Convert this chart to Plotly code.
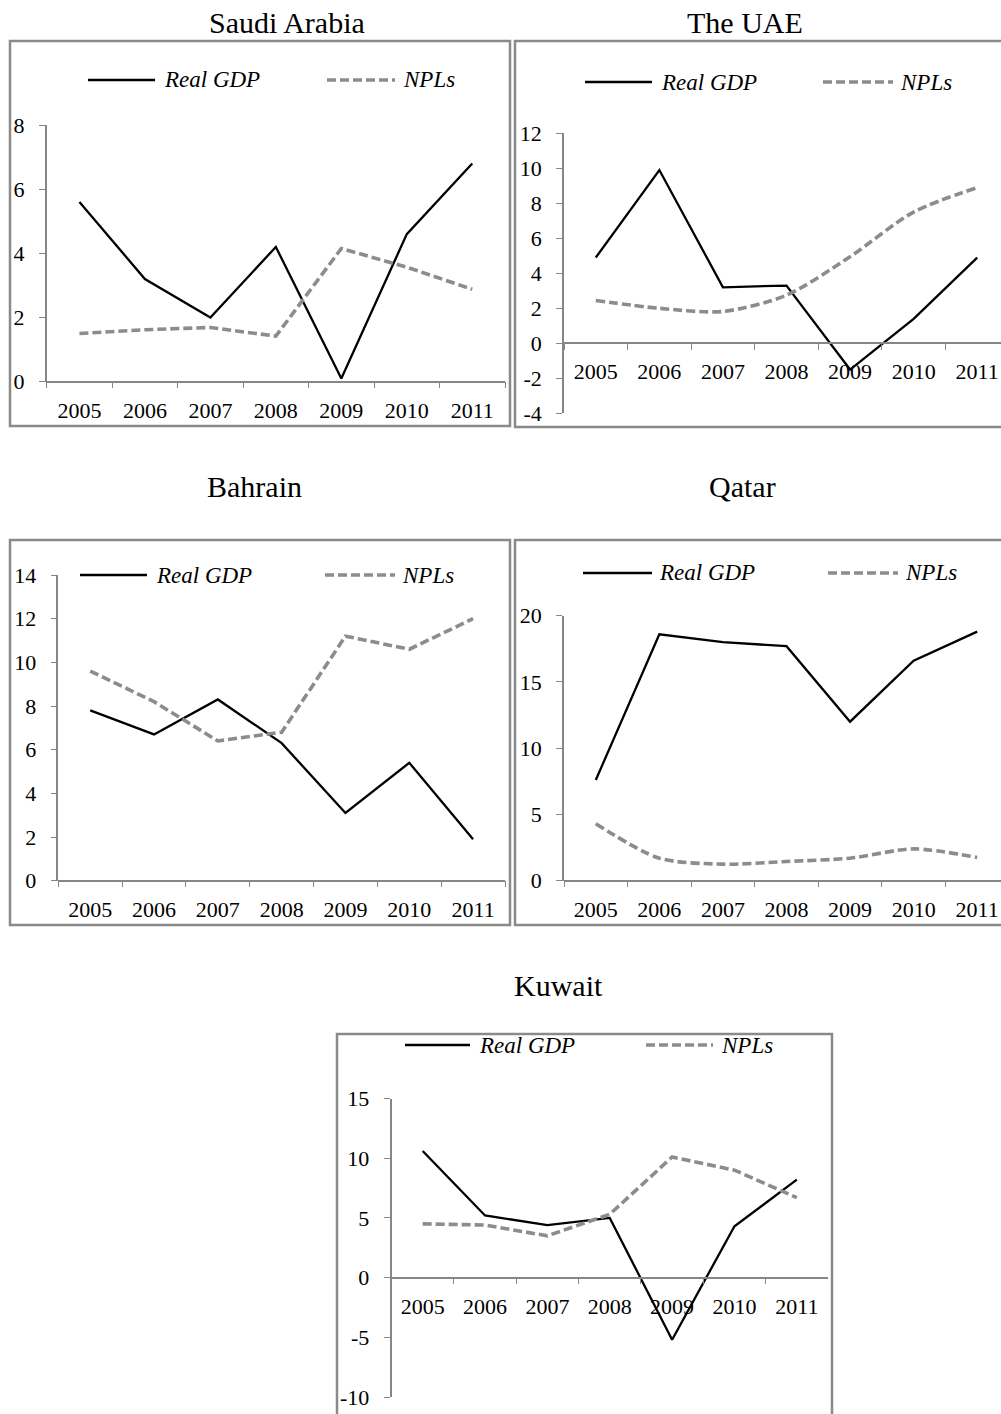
import plotly.graph_objects as go

# ---------------- data ----------------
years = ["2005", "2006", "2007", "2008", "2009", "2010", "2011"]

saudi_gdp = [5.6, 3.2, 2.0, 4.2, 0.1, 4.6, 6.8]
saudi_npl = [1.5, 1.62, 1.69, 1.42, 4.15, 3.57, 2.88]

uae_gdp = [4.9, 9.9, 3.2, 3.3, -1.5, 1.4, 4.9]
uae_npl = [2.45, 2.0, 1.82, 2.75, 4.95, 7.5, 8.9]

bahrain_gdp = [7.8, 6.7, 8.3, 6.3, 3.1, 5.4, 1.9]
bahrain_npl = [9.6, 8.2, 6.4, 6.8, 11.2, 10.6, 12.0]

qatar_gdp = [7.6, 18.6, 18.0, 17.7, 12.0, 16.6, 18.8]
qatar_npl = [4.3, 1.7, 1.25, 1.45, 1.7, 2.4, 1.75]

kuwait_gdp = [10.6, 5.2, 4.4, 5.0, -5.2, 4.3, 8.2]
kuwait_npl = [4.5, 4.4, 3.5, 5.3, 10.1, 9.0, 6.7]

titles = ["Saudi Arabia", "The UAE", "Bahrain", "Qatar", "Kuwait"]
legend_names = ["Real GDP", "NPLs"]

# ---------------- layout helpers ----------------
W, H = 1001, 1414
FONT = "Liberation Serif"
GRAY = "#8a8a8a"
AXGRAY = "#868686"
NPL_GRAY = "#8c8c8c"


def px(x):
    return x / W


def py(y):
    return 1 - y / H


panels = [
    dict(gdp=saudi_gdp, npl=saudi_npl, spline=False,
         xd=(46.7, 505), yd=(381.7, 125), yr=(0, 8), dt=2, xr=(-0.5, 6.5),
         box=(10, 41, 510, 426), title=(287, 23),
         leg=(88, 155, 162, 327, 395, 401, 80)),
    dict(gdp=uae_gdp, npl=uae_npl, spline=True,
         xd=(564, 1001), yd=(413.3, 133.3), yr=(-4, 12), dt=2,
         xr=(-0.5, -0.5 + (1001 - 564) / 63.57),
         box=(515, 41, 1006, 427), title=(745, 23),
         leg=(585, 652, 659, 823, 893, 898, 82)),
    dict(gdp=bahrain_gdp, npl=bahrain_npl, spline=False,
         xd=(58.3, 505), yd=(880.7, 575), yr=(0, 14), dt=2, xr=(-0.5, 6.5),
         box=(10, 540, 510, 925), title=(255, 487),
         leg=(80, 147, 154, 325, 395, 400, 575)),
    dict(gdp=qatar_gdp, npl=qatar_npl, spline=True,
         xd=(564, 1001), yd=(880.7, 615.7), yr=(0, 20), dt=5,
         xr=(-0.5, -0.5 + (1001 - 564) / 63.57),
         box=(515, 540, 1006, 925), title=(742, 487),
         leg=(583, 652, 657, 828, 898, 903, 573)),
    dict(gdp=kuwait_gdp, npl=kuwait_npl, spline=False,
         xd=(391.5, 828), yd=(1397, 1098.5), yr=(-10, 15), dt=5, xr=(-0.5, 6.5),
         box=(337, 1034, 832, 1420), title=(558, 985),
         leg=(405, 470, 477, 646, 713, 719, 1045)),
]

fig = go.Figure()
shapes = []
annotations = []

for i, p in enumerate(panels, start=1):
    xa = "x" if i == 1 else f"x{i}"
    ya = "y" if i == 1 else f"y{i}"
    fig.add_trace(go.Scatter(
        x=years, y=p["gdp"], mode="lines", name=legend_names[0],
        line=dict(color="black", width=2.3), xaxis=xa, yaxis=ya,
        showlegend=False))
    fig.add_trace(go.Scatter(
        x=years, y=p["npl"], mode="lines", name=legend_names[1],
        line=dict(color=NPL_GRAY, width=3.6, dash="9px,4px",
                  shape="spline" if p["spline"] else "linear",
                  smoothing=0.8),
        xaxis=xa, yaxis=ya, showlegend=False))

    xdom = [px(p["xd"][0]), px(p["xd"][1])]
    ydom = [py(p["yd"][0]), py(p["yd"][1])]
    r0, r1 = p["yr"]
    zero_pos = ydom[0] + (0 - r0) / (r1 - r0) * (ydom[1] - ydom[0])
    yt = list(range(r0, r1 + 1, p["dt"]))
    ytt = [str(v) for v in yt]  # ASCII hyphen for negatives, as in Excel

    key = "" if i == 1 else str(i)
    fig.layout["xaxis" + key] = dict(
        type="category", domain=xdom, range=list(p["xr"]),
        anchor="free", position=zero_pos, automargin=False,
        tickson="boundaries", ticks="outside", ticklen=6, tickwidth=1.3,
        tickcolor=AXGRAY, showline=True, linecolor=AXGRAY, linewidth=1.5,
        showgrid=False, zeroline=False,
        tickfont=dict(family=FONT, size=22, color="black"),
        ticklabelstandoff=9, fixedrange=True)
    fig.layout["yaxis" + key] = dict(
        domain=ydom, range=[r0, r1], tickmode="array", tickvals=yt,
        ticktext=ytt, automargin=False,
        anchor=xa, ticks="outside", ticklen=6, tickwidth=1.3,
        tickcolor=AXGRAY, showline=True, linecolor=AXGRAY, linewidth=1.5,
        showgrid=False, zeroline=False,
        tickfont=dict(family=FONT, size=22, color="black"),
        ticklabelstandoff=10, fixedrange=True)

    # panel border
    bx0, by0, bx1, by1 = p["box"]
    shapes.append(dict(type="rect", xref="paper", yref="paper",
                       x0=px(bx0), x1=px(bx1), y0=py(by1), y1=py(by0),
                       line=dict(color=GRAY, width=2.5), layer="below"))
    # title
    tx, ty = p["title"]
    annotations.append(dict(text=titles[i - 1], xref="paper", yref="paper",
                            x=px(tx), y=py(ty), showarrow=False,
                            xanchor="center", yanchor="middle",
                            font=dict(family=FONT, size=30, color="black")))
    # legend (manual, Excel style)
    s0, s1, st, d0, d1, dtx, ly = p["leg"]
    shapes.append(dict(type="line", xref="paper", yref="paper",
                       x0=px(s0), x1=px(s1), y0=py(ly), y1=py(ly),
                       line=dict(color="black", width=2.3)))
    shapes.append(dict(type="line", xref="paper", yref="paper",
                       x0=px(d0), x1=px(d1), y0=py(ly), y1=py(ly),
                       line=dict(color=NPL_GRAY, width=3.6, dash="9px,4px")))
    annotations.append(dict(text="<i>" + legend_names[0] + "</i>", xref="paper",
                            yref="paper", x=px(st), y=py(ly), showarrow=False,
                            xanchor="left", yanchor="middle",
                            font=dict(family=FONT, size=23, color="black")))
    annotations.append(dict(text="<i>" + legend_names[1] + "</i>", xref="paper",
                            yref="paper", x=px(dtx), y=py(ly), showarrow=False,
                            xanchor="left", yanchor="middle",
                            font=dict(family=FONT, size=23, color="black")))

fig.update_layout(
    width=W, height=H,
    margin=dict(l=0, r=0, t=0, b=0, pad=0, autoexpand=False),
    paper_bgcolor="white", plot_bgcolor="white",
    showlegend=False,
    shapes=shapes, annotations=annotations,
    font=dict(family=FONT, color="black"),
)

post = ("document.body.style.margin='0';document.body.style.padding='0';"
        "document.body.style.overflow='hidden';"
        "var d=document.getElementById('{plot_id}');"
        "d.style.position='absolute';d.style.left='0px';d.style.top='0px';")

fig.write_html("out.html", config=dict(displayModeBar=False), post_script=post)
